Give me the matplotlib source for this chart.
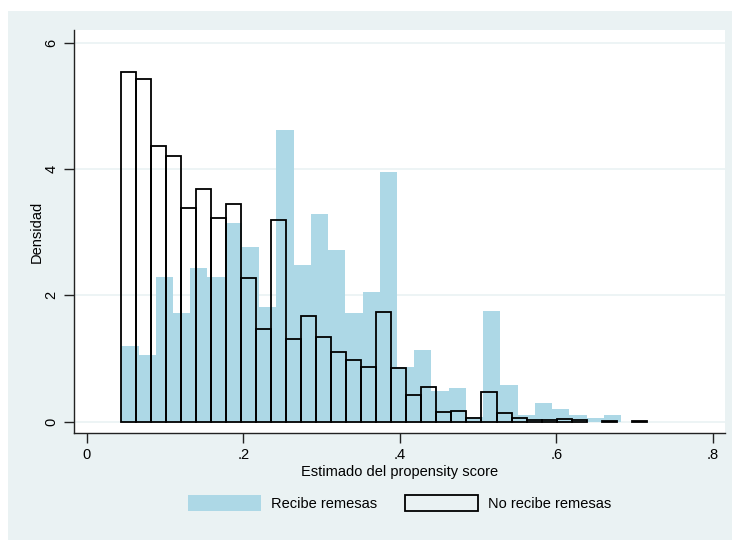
import matplotlib
matplotlib.use("Agg")
import matplotlib.pyplot as plt
from matplotlib.patches import Rectangle
import numpy as np

plt.rcParams['font.family'] = ['Liberation Sans', 'DejaVu Sans']

# Histogram data (density), propensity score by group
start = 0.0442
width_recibe = 0.02201
width_no = 0.01917

dens_recibe = [1.20, 1.06, 2.29, 1.72, 2.43, 2.29, 3.14, 2.77, 1.81, 4.62,
               2.48, 3.28, 2.72, 1.72, 2.05, 3.95, 0.86, 1.14, 0.48, 0.53,
               0.08, 1.76, 0.58, 0.10, 0.30, 0.20, 0.10, 0.06, 0.10]
dens_no = [5.53, 5.43, 4.37, 4.20, 3.39, 3.68, 3.22, 3.45, 2.27, 1.47,
           3.19, 1.31, 1.68, 1.34, 1.10, 0.97, 0.87, 1.73, 0.85, 0.42,
           0.55, 0.15, 0.17, 0.06, 0.47, 0.13, 0.06, 0.03, 0.02, 0.05,
           0.02, 0.0, 0.015, 0.0, 0.015]

xticks = [0, 0.2, 0.4, 0.6, 0.8]
xtick_labels = ['0', '.2', '.4', '.6', '.8']
yticks = [0, 2, 4, 6]

bg = '#eaf2f3'
blue = '#add8e6'

fig = plt.figure(figsize=(7.32, 5.40), dpi=100, facecolor='white')
# light background panel behind the graph
fig.patches.append(Rectangle((8 / 732, 0), 724 / 732, 529 / 540,
                             transform=fig.transFigure, facecolor=bg,
                             edgecolor='none', zorder=-1))
ax = fig.add_axes([74 / 732, 1 - 433 / 540, 651 / 732, 403 / 540])
ax.set_facecolor('white')

left_r = start + width_recibe * np.arange(len(dens_recibe))
left_n = start + width_no * np.arange(len(dens_no))
dn = np.array(dens_no)
keep = dn > 0

ax.bar(left_r, dens_recibe, width=width_recibe, align='edge', color=blue,
       edgecolor='none', label='Recibe remesas', zorder=2)
ax.bar(left_n[keep], dn[keep], width=width_no, align='edge', facecolor='none',
       edgecolor='black', linewidth=1.3, label='No recibe remesas', zorder=3)

ax.set_xlim(-0.0162, 0.8153)
ax.set_ylim(-0.179, 6.20)
ax.set_xticks(xticks)
ax.set_xticklabels(xtick_labels)
ax.set_yticks(yticks)
ax.set_yticklabels([str(v) for v in yticks], rotation=90, va='center')
ax.grid(axis='y', color=bg, linewidth=1.2, zorder=1)
ax.set_axisbelow(True)
for s in ['top', 'right']:
    ax.spines[s].set_visible(False)
for s in ['left', 'bottom']:
    ax.spines[s].set_color('#222222')
    ax.spines[s].set_linewidth(1.0)
ax.tick_params(axis='both', length=7, width=1, color='#222222',
               labelsize=10.5, pad=4)

ax.set_xlabel('Estimado del propensity score', fontsize=10.5, labelpad=2)
ax.set_ylabel('Densidad', fontsize=10.5, labelpad=0.5)

fig.legend(loc='center', bbox_to_anchor=(399.5 / 732, 1 - 503 / 540), ncol=2,
           frameon=False, fontsize=10.5, handlelength=5.0, handleheight=1.35,
           handletextpad=0.7, columnspacing=1.9)

fig.savefig('out.png', dpi=100, facecolor=fig.get_facecolor())
